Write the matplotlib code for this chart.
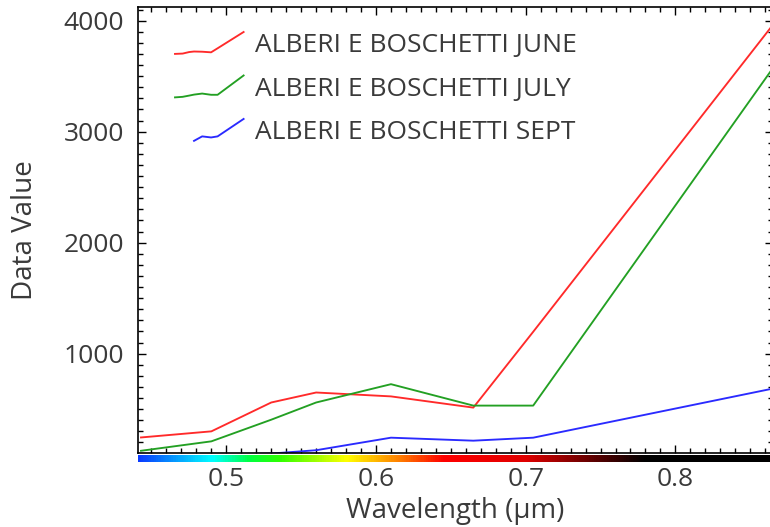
import numpy as np
import matplotlib
matplotlib.use("Agg")
import matplotlib.pyplot as plt
from matplotlib.colors import LinearSegmentedColormap
from matplotlib.legend_handler import HandlerBase
from matplotlib.lines import Line2D
from matplotlib.ticker import MultipleLocator, FixedLocator

# Spectral profiles (band centre in micrometres -> value)
wavelength = [0.443, 0.490, 0.530, 0.560, 0.610, 0.665, 0.705, 0.865]
june = [245, 300, 560, 650, 615, 514, 1197, 3960]
july = [125, 210, 405, 560, 725, 532, 532, 3570]
sept = [95, 92, 100, 130, 243, 216, 243, 685]

series_values = [june, july, sept]
series_labels = ["ALBERI E BOSCHETTI JUNE",
                 "ALBERI E BOSCHETTI JULY",
                 "ALBERI E BOSCHETTI SEPT"]
series_colors = ["#ff2a2a", "#23a023", "#2a2aff"]

x_ticks = [0.5, 0.6, 0.7, 0.8]
y_ticks = [1000, 2000, 3000, 4000]
x_range = (0.441, 0.865)
y_range = (105, 4123)

# Visible-spectrum strip drawn under the wavelength axis
strip_wl = [0.441, 0.490, 0.515, 0.535, 0.580, 0.615, 0.645, 0.700, 0.745, 0.780, 0.865]
strip_rgb = ["#0a3cff", "#00ffff", "#00ff40", "#30ff00", "#ffff00", "#ff8000",
             "#ff0000", "#e00000", "#600000", "#000000", "#000000"]

FONT = ["Open Sans", "DejaVu Sans"]
TEXT_COLOR = "#3a3a3a"
plt.rcParams["font.family"] = FONT


class SpectrumHandler(HandlerBase):
    """Legend key that draws a miniature of the series' own profile."""

    def __init__(self, xs, ys, ymin):
        super().__init__()
        self.xs = np.asarray(xs, float)
        self.ys = np.asarray(ys, float)
        self.ymin = ymin

    def create_artists(self, legend, orig_handle, xdescent, ydescent,
                       width, height, fontsize, trans):
        keep = self.ys >= self.ymin
        xk, yk = self.xs[keep], self.ys[keep]
        xn = (xk - self.xs.min()) / (self.xs.max() - self.xs.min())
        yn = (yk - yk.min()) / (yk.max() - yk.min())
        line = Line2D(-xdescent + xn * width, -ydescent + yn * height,
                      color=orig_handle.get_color(),
                      lw=orig_handle.get_linewidth())
        line.set_transform(trans)
        return [line]


W, H = 770, 527
fig = plt.figure(figsize=(W / 100, H / 100), dpi=100)
ax_l, ax_r, ax_t, ax_b = 138, 772.7, 7, 453
ax = fig.add_axes([ax_l / W, 1 - ax_b / H, (ax_r - ax_l) / W, (ax_b - ax_t) / H])

lines = []
for vals, lab, col in zip(series_values, series_labels, series_colors):
    ln, = ax.plot(wavelength, vals, color=col, lw=1.35, label=lab)
    lines.append(ln)

ax.set_xlim(*x_range)
ax.set_ylim(*y_range)
ax.xaxis.set_major_locator(FixedLocator(x_ticks))
ax.xaxis.set_minor_locator(MultipleLocator(0.01))
ax.yaxis.set_major_locator(FixedLocator(y_ticks))
ax.yaxis.set_minor_locator(MultipleLocator(100))
ax.set_xticklabels([f"{t:.1f}" for t in x_ticks])
ax.set_yticklabels([f"{t}" for t in y_ticks])

ax.tick_params(which="both", direction="in", top=True, right=True,
               width=1.0, color="black")
ax.tick_params(which="major", length=5.5)
ax.tick_params(which="minor", length=3.3)
ax.tick_params(axis="x", which="major", labelsize=19, labelcolor=TEXT_COLOR, pad=10)
ax.tick_params(axis="y", which="major", labelsize=19, labelcolor=TEXT_COLOR, pad=10)
for sp in ax.spines.values():
    sp.set_linewidth(1.2)

ax.set_xlabel("Wavelength (µm)", fontsize=20, color=TEXT_COLOR)
ax.set_ylabel("Data Value", fontsize=20, color=TEXT_COLOR)
ax.xaxis.label.set_va("center")
ax.yaxis.label.set_va("center")
ax.xaxis.set_label_coords(0.5, (ax_b - 511) / (ax_b - ax_t))
ax.yaxis.set_label_coords((25 - ax_l) / (ax_r - ax_l), 0.5)

handler_map = {ln: SpectrumHandler(wavelength, vals, y_range[0])
               for ln, vals in zip(lines, series_values)}
leg = ax.legend(handles=lines, handler_map=handler_map, loc="upper left",
                bbox_to_anchor=((175 - ax_l) / (ax_r - ax_l), 1 - (32 - ax_t) / (ax_b - ax_t)),
                frameon=False, fontsize=19, handlelength=2.6, handleheight=0.9,
                handletextpad=0.42, labelspacing=0.66, borderpad=0, borderaxespad=0)
for t in leg.get_texts():
    t.set_color(TEXT_COLOR)

# Spectrum colour strip
cmap = LinearSegmentedColormap.from_list(
    "visible",
    [((w - strip_wl[0]) / (strip_wl[-1] - strip_wl[0]), c) for w, c in zip(strip_wl, strip_rgb)])
strip_top, strip_bot = 455, 462
sax = fig.add_axes([ax_l / W, 1 - strip_bot / H, (ax_r - ax_l) / W, (strip_bot - strip_top) / H])
grad = np.linspace(x_range[0], x_range[1], 600)[None, :]
sax.imshow(grad, aspect="auto", cmap=cmap, extent=[x_range[0], x_range[1], 0, 1],
           vmin=strip_wl[0], vmax=strip_wl[-1])
sax.set_axis_off()

fig.savefig("out.png", dpi=100)
